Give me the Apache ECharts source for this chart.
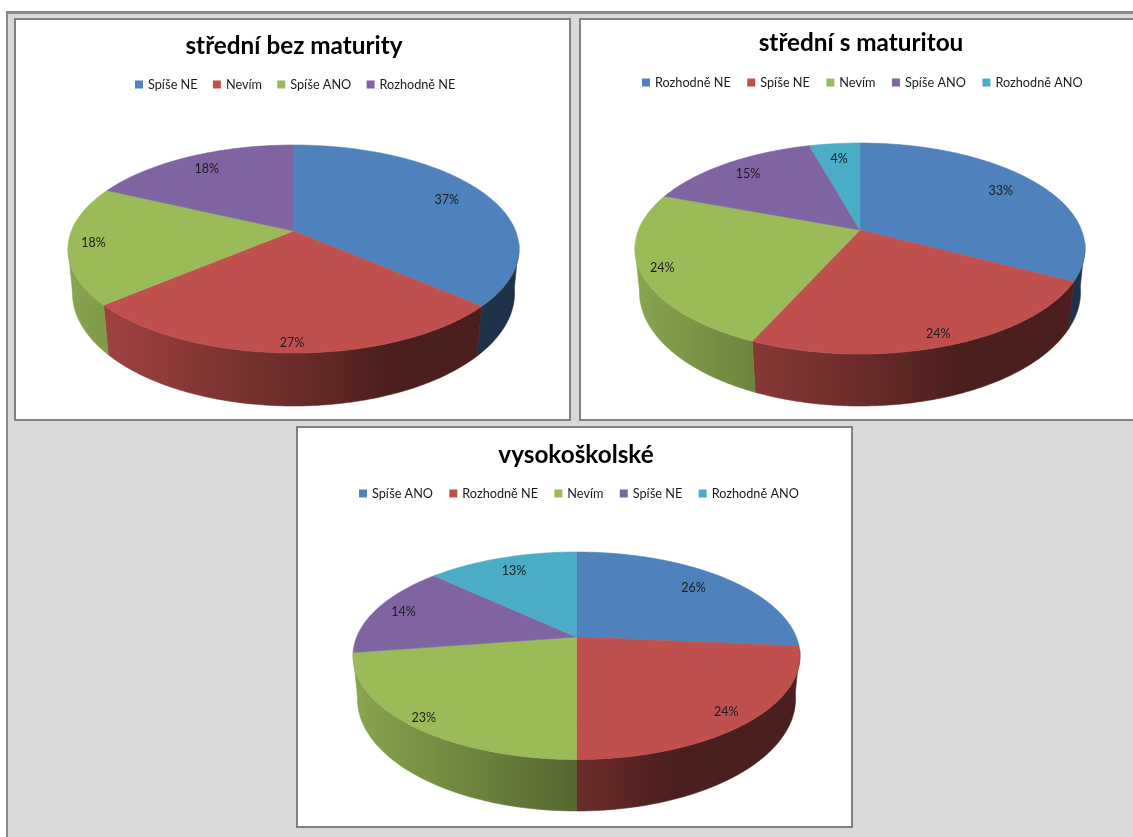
<!DOCTYPE html>
<html>
<head>
<meta charset="utf-8">
<script src="https://cdn.jsdelivr.net/npm/echarts@6/dist/echarts.min.js"></script>
<style>
html,body{margin:0;padding:0;width:1133px;height:837px;overflow:hidden;background:#fff}
#frame{position:absolute;left:6px;top:11px;width:1200px;height:900px;background:#d9d9d9;border-left:2px solid #8a8a8a;border-top:3px solid #8a8a8a}
.panel{position:absolute;box-sizing:border-box;border:2px solid #808080;background:#fff;overflow:hidden}
.panel div.c{position:absolute;left:0;top:0;width:100%;height:100%}
</style>
</head>
<body>
<div id="frame"></div>
<div class="panel" style="left:14px;top:18px;width:557px;height:403px"><div class="c" id="c0"></div></div>
<div class="panel" style="left:579px;top:18px;width:570px;height:403px"><div class="c" id="c1"></div></div>
<div class="panel" style="left:296px;top:426px;width:557px;height:402px"><div class="c" id="c2"></div></div>
<script>
// ---- data (slice shares; labels show them rounded) ----
const titles = ['střední bez maturity', 'střední s maturitou', 'vysokoškolské'];
const names1 = ['Spíše NE', 'Nevím', 'Spíše ANO', 'Rozhodně NE'];
const values1 = [36.5, 27.2, 18.4, 17.9];
const names2 = ['Rozhodně NE', 'Spíše NE', 'Nevím', 'Spíše ANO', 'Rozhodně ANO'];
const values2 = [32.7, 24.0, 24.0, 15.0, 4.3];
const names3 = ['Spíše ANO', 'Rozhodně NE', 'Nevím', 'Spíše NE', 'Rozhodně ANO'];
const values3 = [26.4, 23.6, 22.6, 14.4, 13.0];
const palette = ['#4F81BD', '#C0504D', '#9BBB59', '#8064A2', '#4BACC6'];

// ---- layout, page pixels ----
const FONT = 'Lato, Carlito, sans-serif';
const layouts = [
  {ox:16, oy:20, cx:293.5, cy:231, up:86, dn:122, half:225.5, depth:53, titleX:294, titleY:45, legendX:135, legendY:78, gap:15.3},
  {ox:581, oy:20, cx:860, cy:230, up:87, dn:124, half:225, depth:52, titleX:861, titleY:42, legendX:642, legendY:76, gap:16.5},
  {ox:298, oy:428, cx:576.5, cy:637, up:85, dn:122.5, half:223.5, depth:51.5, titleX:576, titleY:454, legendX:359, legendY:487, gap:16.3}
];

function shade(hex, f){
  const n = parseInt(hex.slice(1), 16);
  const ch = s => Math.round(((n >> s) & 255) * f);
  return 'rgb(' + ch(16) + ',' + ch(8) + ',' + ch(0) + ')';
}

function buildChart(el, title, names, values, L){
  const chart = echarts.init(el, null, {renderer:'canvas'});
  const total = values.reduce((a, b) => a + b, 0);
  const k = (L.dn - L.up) / (L.dn + L.up);
  const B = L.up * (1 + k);
  const R = L.half * Math.sqrt(1 - k * k);
  const cx = L.cx - L.ox, cy = L.cy - L.oy;
  const project = (a, rho) => {
    const u = Math.sin(a) * rho, v = Math.cos(a) * rho;
    const w = 1 + k * v;
    return [cx + R * u / w, cy - B * v / w];
  };
  const lower = (p, a) => {
    const v = Math.cos(a);
    const h = L.depth * (0.82 - 0.18 * v);
    return [cx + (p[0] - cx) * (0.982 + 0.01 * v), p[1] + h];
  };
  const STEP = Math.PI / 360;
  const sideFrom = 97 * Math.PI / 180, sideTo = 261 * Math.PI / 180;
  let cum = 0;
  const series = values.map((val, i) => {
    const startShare = cum;
    cum += val;
    const color = palette[i];
    return {
      type:'custom', name:names[i], coordinateSystem:'none',
      itemStyle:{color},
      data:[[val]],
      renderItem(params, api){
        const a0 = startShare / total * 2 * Math.PI;
        const a1 = (startShare + api.value(0)) / total * 2 * Math.PI;
        const top = [[cx, cy]];
        for (let a = a0; a < a1; a += STEP) top.push(project(a, 1));
        top.push(project(a1, 1));
        const children = [];
        const s0 = Math.max(a0, sideFrom), s1 = Math.min(a1, sideTo);
        if (s1 > s0) {
          const rim = [], low = [];
          for (let a = s0; a < s1; a += STEP) { const p = project(a, 1); rim.push(p); low.push(lower(p, a)); }
          const pe = project(s1, 1); rim.push(pe); low.push(lower(pe, s1));
          const grad = {
            type:'linear', global:true,
            x:cx - L.half, y:0, x2:cx + L.half, y2:0,
            colorStops:[
              {offset:0, color:shade(color, 0.88)},
              {offset:0.5, color:shade(color, 0.55)},
              {offset:0.72, color:shade(color, 0.39)},
              {offset:1, color:shade(color, 0.39)}
            ]
          };
          children.push({
            type:'polygon', z2:1,
            shape:{points:rim.concat(low.reverse())},
            style:{fill:grad, stroke:grad, lineWidth:0.6}
          });
        }
        children.push({type:'polygon', z2:5, shape:{points:top}, style:{fill:color, stroke:color, lineWidth:0.6}});
        const mid = (a0 + a1) / 2;
        const c = Math.cos(mid);
        const lp = project(mid, 0.85 - (c < 0 ? 0.08 : 0.055) * c - 0.03 * Math.sin(mid));
        children.push({
          type:'text', z2:10, x:lp[0], y:lp[1],
          style:{text:Math.round(api.value(0)) + '%', fill:'#1c1c1c', font:'12.5px ' + FONT, align:'center', verticalAlign:'middle'}
        });
        return {type:'group', children};
      }
    };
  });
  chart.setOption({
    animation:false,
    color:palette,
    title:{
      text:title, left:L.titleX - L.ox, top:L.titleY - L.oy + 1, textAlign:'center', textVerticalAlign:'middle', padding:0,
      textStyle:{fontFamily:FONT, fontWeight:'bold', fontSize:24.3, color:'#000'}
    },
    legend:{
      data:names, left:L.legendX - L.ox, top:L.legendY - L.oy, orient:'horizontal', padding:0,
      icon:'rect', itemWidth:8, itemHeight:8, itemGap:L.gap, selectedMode:false,
      textStyle:{fontFamily:FONT, fontSize:12.7, color:'#1c1c1c'}
    },
    series
  });
}

buildChart(document.getElementById('c0'), titles[0], names1, values1, layouts[0]);
buildChart(document.getElementById('c1'), titles[1], names2, values2, layouts[1]);
buildChart(document.getElementById('c2'), titles[2], names3, values3, layouts[2]);
</script>
</body>
</html>
